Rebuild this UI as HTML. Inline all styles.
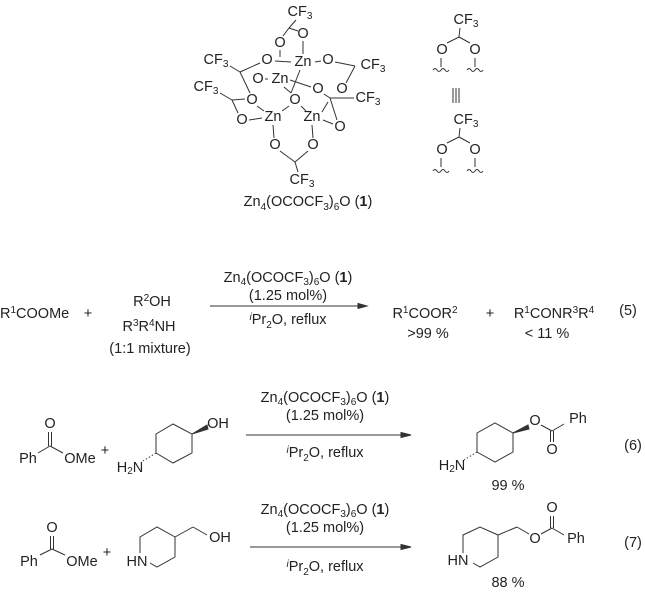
<!DOCTYPE html>
<html><head><meta charset="utf-8"><style>
html,body{margin:0;padding:0;background:#fff;}
svg{display:block;}
text{font-family:"Liberation Sans",sans-serif;font-size:14.5px;fill:#222;}
tspan.s{font-size:10px;}
.c{text-anchor:middle;dominant-baseline:central;}
line,polyline,path{stroke:#333;stroke-width:1;fill:none;}
</style></head><body>
<svg width="645" height="592" viewBox="0 0 645 592" xmlns="http://www.w3.org/2000/svg">
<g>
<line x1="296" y1="20" x2="289" y2="28"/>
<line x1="289" y1="28" x2="298" y2="31"/><line x1="289" y1="28" x2="283" y2="36"/>
<line x1="303" y1="41" x2="303" y2="54"/>
<line x1="280" y1="50" x2="280" y2="57"/>
<line x1="275" y1="61" x2="291" y2="62"/>
<line x1="315" y1="62" x2="321" y2="61"/>
<line x1="230" y1="66" x2="240" y2="72"/><line x1="240" y1="72" x2="260" y2="63"/>
<line x1="240" y1="72" x2="250" y2="93"/>
<line x1="335" y1="62" x2="355" y2="66"/><line x1="355" y1="66" x2="346" y2="83"/>
<line x1="265" y1="79" x2="268" y2="79"/>
<line x1="290" y1="80" x2="311" y2="87"/>
<line x1="300" y1="70" x2="291" y2="93"/>
<line x1="284" y1="87" x2="291" y2="93"/>
<line x1="220" y1="93" x2="232" y2="100"/><line x1="232" y1="100" x2="245" y2="99"/><line x1="232" y1="100" x2="238" y2="113"/>
<line x1="330" y1="98" x2="354" y2="98"/><line x1="330" y1="98" x2="324" y2="94"/><line x1="330" y1="98" x2="337" y2="120"/>
<line x1="257" y1="106" x2="264" y2="111"/>
<line x1="249" y1="120" x2="262" y2="118"/>
<line x1="289" y1="106" x2="282" y2="111"/><line x1="301" y1="106" x2="306" y2="111"/>
<line x1="322" y1="112" x2="328" y2="102"/>
<line x1="323" y1="120" x2="333" y2="124"/>
<line x1="273" y1="125" x2="274" y2="138"/><line x1="312" y1="125" x2="313" y2="138"/>
<line x1="280" y1="151" x2="295" y2="162"/><line x1="308" y1="151" x2="295" y2="162"/>
<line x1="295" y1="162" x2="298" y2="172"/>
</g>
<g>
<text x="300" y="12" class="c">CF<tspan class="s" dy="4">3</tspan></text>
<text x="303" y="34" class="c">O</text><text x="280" y="43" class="c">O</text>
<text x="303" y="62" class="c">Zn</text>
<text x="267" y="60" class="c">O</text><text x="216" y="60" class="c">CF<tspan class="s" dy="4">3</tspan></text>
<text x="328" y="60" class="c">O</text><text x="373" y="65" class="c">CF<tspan class="s" dy="4">3</tspan></text>
<text x="280" y="79" class="c">Zn</text><text x="258" y="79" class="c">O</text>
<text x="206" y="87" class="c">CF<tspan class="s" dy="4">3</tspan></text>
<text x="318" y="89" class="c">O</text><text x="342" y="89" class="c">O</text>
<text x="368" y="98" class="c">CF<tspan class="s" dy="4">3</tspan></text>
<text x="295" y="100" class="c">O</text><text x="252" y="100" class="c">O</text>
<text x="273" y="117" class="c">Zn</text><text x="312" y="117" class="c">Zn</text>
<text x="242" y="120" class="c">O</text><text x="340" y="127" class="c">O</text>
<text x="275" y="145" class="c">O</text><text x="313" y="145" class="c">O</text>
<text x="302" y="180" class="c">CF<tspan class="s" dy="4">3</tspan></text>
<text x="308" y="206" text-anchor="middle">Zn<tspan class="s" dy="4">4</tspan><tspan dy="-4">(OCOCF</tspan><tspan class="s" dy="4">3</tspan><tspan dy="-4">)</tspan><tspan class="s" dy="4">6</tspan><tspan dy="-4">O (</tspan><tspan font-weight="bold">1</tspan>)</text>
</g>
<g>
<text x="466" y="20" class="c">CF<tspan class="s" dy="4">3</tspan></text>
<line x1="460" y1="28" x2="459" y2="37"/><line x1="459" y1="37" x2="447" y2="43"/><line x1="459" y1="37" x2="470" y2="43"/>
<text x="442" y="50" class="c">O</text><text x="475" y="50" class="c">O</text>
<line x1="441" y1="58" x2="441" y2="67"/><line x1="475" y1="58" x2="475" y2="67"/>
<path d="M433 70 q2 -3 4 0 t4 0 t4 0 t4 0" stroke-width="0.8"/>
<path d="M467 70 q2 -3 4 0 t4 0 t4 0 t4 0" stroke-width="0.8"/>
<line x1="453" y1="88" x2="453" y2="103"/><line x1="456" y1="88" x2="456" y2="103"/><line x1="459" y1="88" x2="459" y2="103"/>
<text x="466" y="120" class="c">CF<tspan class="s" dy="4">3</tspan></text>
<line x1="460" y1="128" x2="459" y2="137"/><line x1="459" y1="137" x2="447" y2="143"/><line x1="459" y1="137" x2="470" y2="143"/>
<text x="442" y="150" class="c">O</text><text x="475" y="150" class="c">O</text>
<line x1="441" y1="158" x2="441" y2="167"/><line x1="475" y1="158" x2="475" y2="167"/>
<path d="M433 171 q2 -3 4 0 t4 0 t4 0 t4 0" stroke-width="0.8"/>
<path d="M467 171 q2 -3 4 0 t4 0 t4 0 t4 0" stroke-width="0.8"/>
</g>
<g>
<text x="0" y="318">R<tspan class="s" dy="-5">1</tspan><tspan dy="5">COOMe</tspan></text>
<text x="88" y="318" text-anchor="middle">+</text>
<text x="152" y="306" text-anchor="middle">R<tspan class="s" dy="-5">2</tspan><tspan dy="5">OH</tspan></text>
<text x="149" y="331" text-anchor="middle">R<tspan class="s" dy="-5">3</tspan><tspan dy="5">R</tspan><tspan class="s" dy="-5">4</tspan><tspan dy="5">NH</tspan></text>
<text x="150" y="353" text-anchor="middle">(1:1 mixture)</text>
<text x="288" y="282" text-anchor="middle">Zn<tspan class="s" dy="3">4</tspan><tspan dy="-3">(OCOCF</tspan><tspan class="s" dy="3">3</tspan><tspan dy="-3">)</tspan><tspan class="s" dy="3">6</tspan><tspan dy="-3">O (</tspan><tspan font-weight="bold">1</tspan>)</text>
<text x="288" y="300" text-anchor="middle">(1.25 mol%)</text>
<line x1="210" y1="306" x2="360" y2="306"/><path d="M358 303.5 L367 306 L358 308.5Z" style="fill:#333"/>
<text x="288" y="324" text-anchor="middle"><tspan font-style="italic" class="s" dy="-4">i</tspan><tspan dy="4">Pr</tspan><tspan class="s" dy="4">2</tspan><tspan dy="-4">O, reflux</tspan></text>
<text x="425" y="318" text-anchor="middle">R<tspan class="s" dy="-5">1</tspan><tspan dy="5">COOR</tspan><tspan class="s" dy="-5">2</tspan></text>
<text x="428" y="338" text-anchor="middle">&gt;99 %</text>
<text x="490" y="318" text-anchor="middle">+</text>
<text x="554" y="318" text-anchor="middle">R<tspan class="s" dy="-5">1</tspan><tspan dy="5">CONR</tspan><tspan class="s" dy="-5">3</tspan><tspan dy="5">R</tspan><tspan class="s" dy="-5">4</tspan></text>
<text x="547" y="338" text-anchor="middle">&lt; 11 %</text>
<text x="628" y="315" text-anchor="middle">(5)</text>
</g>
<g>
<text x="50" y="424" class="c">O</text>
<line x1="48.5" y1="432" x2="48.5" y2="446"/><line x1="51.5" y1="432" x2="51.5" y2="446"/>
<line x1="38" y1="453" x2="50" y2="446"/><line x1="50" y1="446" x2="63" y2="453"/>
<text x="28" y="459" class="c">Ph</text><text x="80" y="459" class="c">OMe</text>
<text x="105" y="451" class="c">+</text>
<polygon points="156,434 173,424 192,434 192,453 173,463 156,453" style="fill:none;stroke:#333"/>
<path d="M192 434 L207 425 L208 429Z" style="fill:#333"/>
<text x="218" y="424" class="c">OH</text>
<path d="M156 453 L143 461" stroke-dasharray="1.5 2" stroke-width="1.5"/>
<text x="130" y="468" class="c">H<tspan class="s" dy="3">2</tspan><tspan dy="-3">N</tspan></text>
<text x="325" y="402" text-anchor="middle">Zn<tspan class="s" dy="3">4</tspan><tspan dy="-3">(OCOCF</tspan><tspan class="s" dy="3">3</tspan><tspan dy="-3">)</tspan><tspan class="s" dy="3">6</tspan><tspan dy="-3">O (</tspan><tspan font-weight="bold">1</tspan>)</text>
<text x="325" y="420" text-anchor="middle">(1.25 mol%)</text>
<line x1="246" y1="435" x2="403" y2="435"/><path d="M401 432.5 L411 435 L401 437.5Z" style="fill:#333"/>
<text x="325" y="457" text-anchor="middle"><tspan font-style="italic" class="s" dy="-4">i</tspan><tspan dy="4">Pr</tspan><tspan class="s" dy="4">2</tspan><tspan dy="-4">O, reflux</tspan></text>
<polygon points="477,433 495,423 513,433 513,452 495,462 477,452" style="fill:none;stroke:#333"/>
<path d="M513 433 L528 425 L529 429Z" style="fill:#333"/>
<text x="535" y="421" class="c">O</text>
<line x1="541" y1="425" x2="552" y2="431"/><line x1="552" y1="431" x2="564" y2="424"/>
<line x1="550.5" y1="431" x2="550.5" y2="442"/><line x1="553.5" y1="431" x2="553.5" y2="442"/>
<text x="552" y="450" class="c">O</text><text x="578" y="419" class="c">Ph</text>
<path d="M477 452 L464 460" stroke-dasharray="1.5 2" stroke-width="1.5"/>
<text x="452" y="466" class="c">H<tspan class="s" dy="3">2</tspan><tspan dy="-3">N</tspan></text>
<text x="508" y="486" class="c">99 %</text>
<text x="633" y="446" class="c">(6)</text>
</g>
<g>
<text x="52" y="528" class="c">O</text>
<line x1="50.5" y1="536" x2="50.5" y2="549"/><line x1="53.5" y1="536" x2="53.5" y2="549"/>
<line x1="40" y1="555" x2="52" y2="549"/><line x1="52" y1="549" x2="65" y2="555"/>
<text x="29" y="562" class="c">Ph</text><text x="82" y="562" class="c">OMe</text>
<text x="107" y="553" class="c">+</text>
<polyline points="140,553 140,537 157,527 175,537 175,557 157,567 150,563"/>
<text x="137" y="562" class="c">HN</text>
<line x1="175" y1="537" x2="193" y2="527"/><line x1="193" y1="527" x2="207" y2="535"/>
<text x="220" y="538" class="c">OH</text>
<text x="325" y="514" text-anchor="middle">Zn<tspan class="s" dy="3">4</tspan><tspan dy="-3">(OCOCF</tspan><tspan class="s" dy="3">3</tspan><tspan dy="-3">)</tspan><tspan class="s" dy="3">6</tspan><tspan dy="-3">O (</tspan><tspan font-weight="bold">1</tspan>)</text>
<text x="325" y="532" text-anchor="middle">(1.25 mol%)</text>
<line x1="250" y1="547" x2="403" y2="547"/><path d="M401 544.5 L411 547 L401 549.5Z" style="fill:#333"/>
<text x="325" y="571" text-anchor="middle"><tspan font-style="italic" class="s" dy="-4">i</tspan><tspan dy="4">Pr</tspan><tspan class="s" dy="4">2</tspan><tspan dy="-4">O, reflux</tspan></text>
<polyline points="463,553 463,535 480,527 498,535 498,557 480,567 473,563"/>
<text x="458" y="561" class="c">HN</text>
<line x1="498" y1="535" x2="517" y2="527"/><line x1="517" y1="527" x2="529" y2="534"/>
<text x="535" y="539" class="c">O</text>
<line x1="541" y1="534" x2="552" y2="528"/><line x1="552" y1="528" x2="564" y2="535"/>
<line x1="550.5" y1="516" x2="550.5" y2="528"/><line x1="553.5" y1="516" x2="553.5" y2="528"/>
<text x="552" y="508" class="c">O</text><text x="576" y="539" class="c">Ph</text>
<text x="508" y="583" class="c">88 %</text>
<text x="633" y="543" class="c">(7)</text>
</g>
</svg>
</body></html>
